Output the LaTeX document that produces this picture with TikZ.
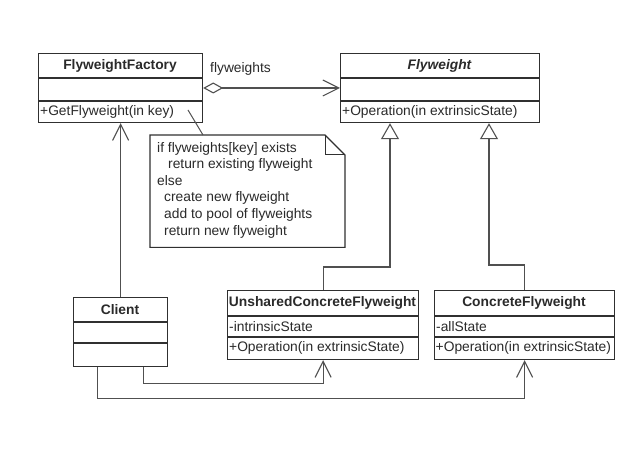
\documentclass[tikz,border=0pt]{standalone}
\usepackage{fontspec}
\setmainfont{Liberation Sans}
\usetikzlibrary{arrows.meta,calc}
\definecolor{txt}{HTML}{2A2A2A}
\definecolor{ln}{HTML}{303030}
\definecolor{cn}{HTML}{505050}
\tikzset{
  cls/.style={draw=ln, line width=1.2pt, fill=white, rectangle, inner sep=0pt, anchor=north west},
  ttl/.style={font=\fontsize{13.8}{16}\selectfont\bfseries, text=txt, inner sep=0pt},
  ttli/.style={font=\fontsize{13.8}{16}\selectfont\bfseries\itshape, text=txt, inner sep=0pt},
  mem/.style={font=\fontsize{13.8}{16}\selectfont, text=txt, inner sep=0pt, anchor=west},
  sep/.style={draw=ln, line width=1.1pt},
  gen/.style={draw=cn, line width=1.1pt, -{Triangle[open, length=16pt, width=18pt, fill=white]}},
  assoc/.style={draw=cn, line width=1.1pt, -{Straight Barb[length=16pt, width=16pt]}},
  aggr/.style={draw=cn, line width=1.1pt, {Diamond[open, length=20pt, width=11pt, fill=white]}-{Straight Barb[length=16pt, width=16pt]}},
}
\begin{document}
\begin{tikzpicture}[x=1pt, y=-1pt]
\useasboundingbox[fill=white] (0,0) rectangle (640,454);

% FlyweightFactory
\node[cls, minimum width=164pt, minimum height=69pt] (ff) at (38,53) {};
\draw[sep] (38,78) -- (202,78);
\draw[sep] (38,101) -- (202,101);
\node[ttl] (fft) at (120,65.5) {FlyweightFactory};
\node[mem] (ffm) at (40,111.5) {+GetFlyweight(in key)};

% Flyweight
\node[cls, minimum width=199pt, minimum height=69pt] (fw) at (340,53) {};
\draw[sep] (340,78) -- (539,78);
\draw[sep] (340,101) -- (539,101);
\node[ttli] (fwt) at (439.5,65.5) {Flyweight};
\node[mem] (fwm) at (342,111.5) {+Operation(in extrinsicState)};

% Client
\node[cls, minimum width=94pt, minimum height=69pt] (cl) at (73,297) {};
\draw[sep] (73,322) -- (167,322);
\draw[sep] (73,343) -- (167,343);
\node[ttl] (clt) at (120,309.5) {Client};

% UnsharedConcreteFlyweight
\node[cls, minimum width=191pt, minimum height=69pt] (uc) at (227,290) {};
\draw[sep] (227,316) -- (418,316);
\draw[sep] (227,337) -- (418,337);
\node[ttl] (uct) at (322.5,303) {UnsharedConcreteFlyweight};
\node[mem] (uca) at (229,326.5) {-intrinsicState};
\node[mem] (ucm) at (229,348) {+Operation(in extrinsicState)};

% ConcreteFlyweight
\node[cls, minimum width=180pt, minimum height=69pt] (cf) at (434,290) {};
\draw[sep] (434,316) -- (614,316);
\draw[sep] (434,337) -- (614,337);
\node[ttl] (cft) at (524,303) {ConcreteFlyweight};
\node[mem] (cfa) at (436,326.5) {-allState};
\node[mem] (cfm) at (435.5,348) {+Operation(in extrinsicState)};

% Note
\node[rectangle, inner sep=0pt, minimum width=195pt, minimum height=112pt, anchor=north west] (note) at (150,135) {};
\draw[ln, line width=1.1pt, fill=white] (note.north west) -- ++(175,0) -- ++(20,20) |- (note.south west) -- cycle;
\draw[ln, line width=1pt] ($(note.north west)+(175,0)$) -- ++(0,20) -- ++(20,0);
\node[font=\fontsize{13.8}{16.6}\selectfont, text=txt, inner sep=0pt, anchor=north west, align=left] (notetext) at (157,142)
{if flyweights[key] exists\\
\hspace*{11pt}return existing flyweight\\
else\\
\hspace*{7pt}create new flyweight\\
\hspace*{7pt}add to pool of flyweights\\
\hspace*{7pt}return new flyweight};
\coordinate (na) at (188,110);
\draw[cn, line width=1pt] (na) -- ($(note.north west)+(53,0)$);

% Aggregation
\draw[aggr] (ff.east |- 0,88) -- (fw.west |- 0,88);
\node[font=\fontsize{13.8}{16}\selectfont, text=txt, inner sep=0pt, anchor=west] (fwl) at (210,69) {flyweights};

% Generalizations
\coordinate (j1) at (390,267);
\coordinate (j2) at (489,265);
\draw[gen] (uc.north) |- (j1) -- (j1 |- fw.south);
\draw[gen] (cf.north) |- (j2) -- (j2 |- fw.south);

% Client associations
\draw[assoc] (cl.north) -- (cl.north |- ff.south);
\draw[assoc] ([xshift=23pt]cl.south) |- ([yshift=-23pt]uc.south) -- (uc.south);
\draw[assoc] ([xshift=-23pt]cl.south) |- ([yshift=-38pt]cf.south) -- (cf.south);
\end{tikzpicture}
\end{document}
